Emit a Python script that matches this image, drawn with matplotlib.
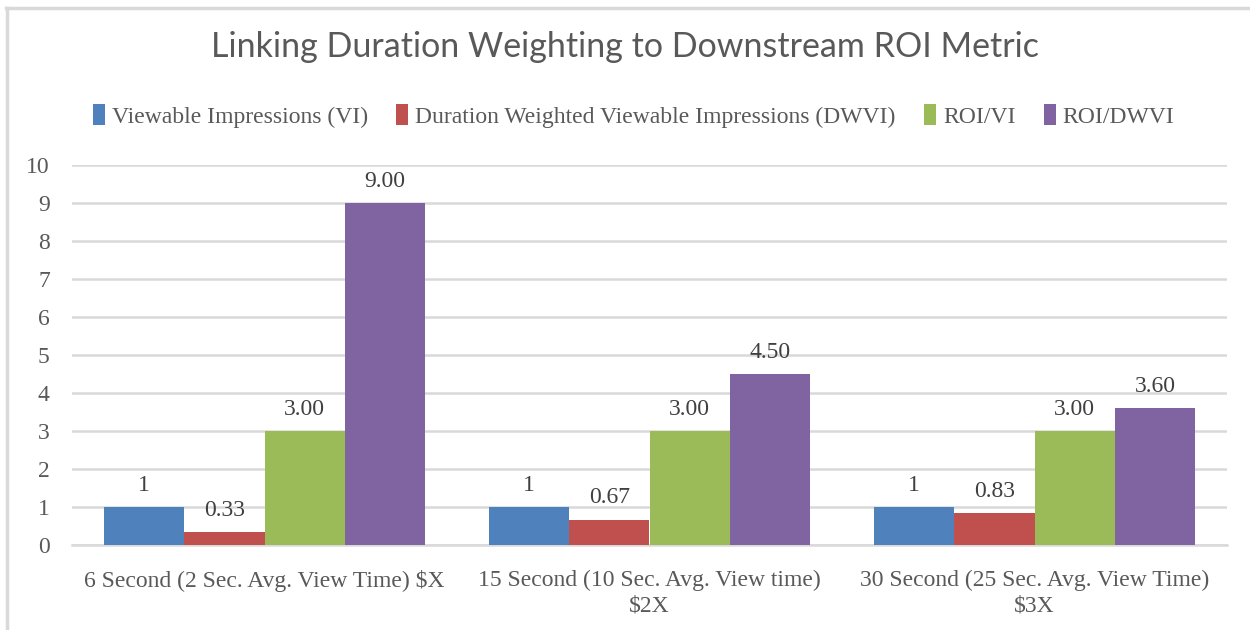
import numpy as np
import matplotlib
matplotlib.use("Agg")
import matplotlib.pyplot as plt
from matplotlib.lines import Line2D

# Data
categories = ["6 Second (2 Sec. Avg. View Time) $X",
              "15 Second (10 Sec. Avg. View time)\n$2X",
              "30 Second (25 Sec. Avg. View Time)\n$3X"]
series_names = ["Viewable Impressions (VI)",
                "Duration Weighted Viewable Impressions (DWVI)",
                "ROI/VI", "ROI/DWVI"]
vi = [1, 1, 1]
dwvi = [0.33, 0.67, 0.83]
roi_vi = [3.00, 3.00, 3.00]
roi_dwvi = [9.00, 4.50, 3.60]
label_formats = ["{:g}", "{:.2f}", "{:.2f}", "{:.2f}"]
colors = ["#4F81BD", "#C0504D", "#9BBB59", "#8064A2"]

SERIF = "Liberation Serif"
SANS = "Lato"
GRID = "#D9D9D9"

fig = plt.figure(figsize=(12.5, 6.3), dpi=100)
ax = fig.add_axes([72 / 1250, 1 - 545 / 630, (1227 - 72) / 1250, 380 / 630])

x = np.arange(len(categories))
width = 0.2085
all_series = [vi, dwvi, roi_vi, roi_dwvi]
for i, vals in enumerate(all_series):
    pos = x + (i - 1.5) * width
    bars = ax.bar(pos, vals, width, color=colors[i], label=series_names[i], zorder=3)
    for b, v in zip(bars, vals):
        ax.annotate(label_formats[i].format(v), (b.get_x() + b.get_width() / 2, v),
                    xytext=(0, 8), textcoords="offset points", ha="center", va="bottom",
                    fontsize=17, family=SERIF, color="#404040")

ax.set_xlim(-0.5, 2.5)
ax.set_ylim(0, 10)
ax.set_yticks(range(0, 11))
ax.yaxis.grid(True, color=GRID, linewidth=1.8, zorder=0)
ax.set_axisbelow(True)
for s in ["top", "right", "left"]:
    ax.spines[s].set_visible(False)
ax.spines["bottom"].set_color(GRID)
ax.spines["bottom"].set_linewidth(1.8)
ax.tick_params(axis="both", length=0, colors="#595959")
ax.tick_params(axis="y", pad=16)
ax.tick_params(axis="x", pad=18)
ax.set_xticks(x)
ax.set_xticklabels(categories, family=SERIF, fontsize=17, linespacing=1.3)
for t in ax.get_yticklabels():
    t.set_family(SERIF)
    t.set_fontsize(17)

fig.text(0.5, 1 - 47 / 630, "Linking Duration Weighting to Downstream ROI Metric",
         ha="center", va="center", fontsize=24.5, family=SANS, color="#595959")

leg = fig.legend(loc="center", bbox_to_anchor=(0.507, 1 - 116 / 630), ncol=4,
                 frameon=False, handlelength=0.5, handleheight=1.0,
                 handletextpad=0.3, columnspacing=1.2,
                 prop={"family": SERIF, "size": 17})
for t in leg.get_texts():
    t.set_color("#595959")

# light gray chart border (top and left visible)
fig.add_artist(Line2D([7 / 1250, 7 / 1250], [0, 1 - 8 / 630], transform=fig.transFigure,
                      color=GRID, linewidth=2.5))
fig.add_artist(Line2D([6 / 1250, 1], [1 - 8 / 630, 1 - 8 / 630], transform=fig.transFigure,
                      color=GRID, linewidth=2.5))

fig.savefig("out.png", dpi=100)
